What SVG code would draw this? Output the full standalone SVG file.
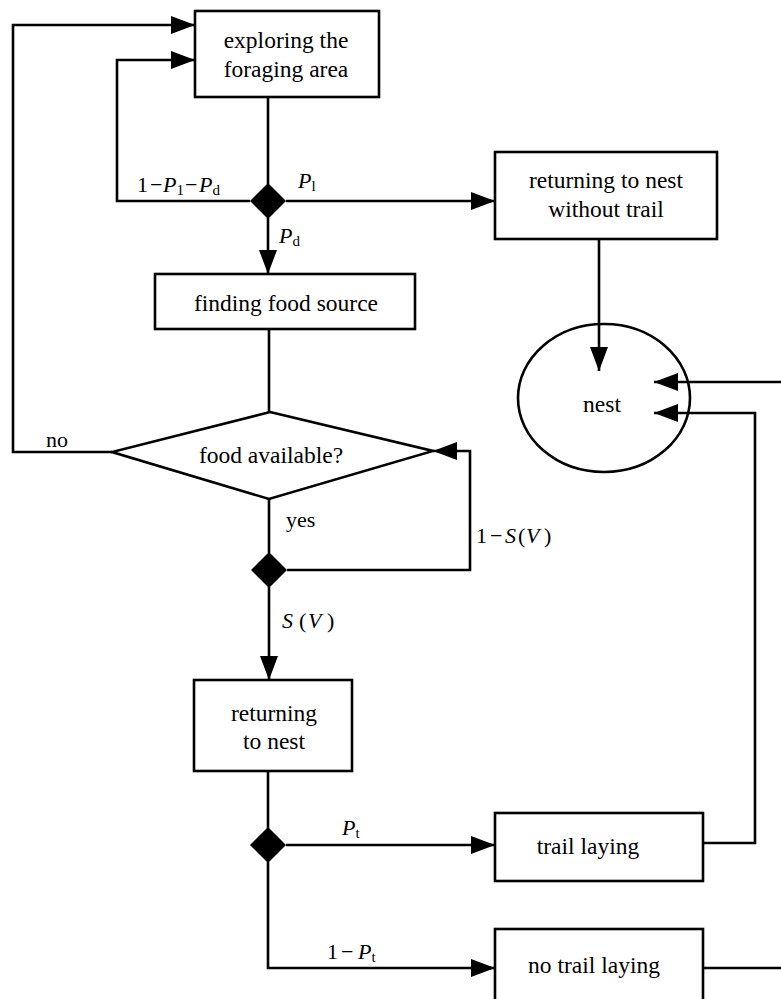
<svg xmlns="http://www.w3.org/2000/svg" width="781" height="999" viewBox="0 0 781 999">
<defs>
<marker id="arr" markerUnits="userSpaceOnUse" markerWidth="24" markerHeight="18" refX="24" refY="9" orient="auto">
<path d="M0,0 L24,9 L0,18 Z" fill="#000"/>
</marker>
<style>
.box{fill:#fff;stroke:#000;stroke-width:2.6}
.dec{fill:#000;stroke:none}
.c{fill:none;stroke:#000;stroke-width:2.6}
.ca{fill:none;stroke:#000;stroke-width:2.6;marker-end:url(#arr)}
.t{font-size:23.5px;fill:#000;text-anchor:middle}
.l{font-size:22px;fill:#000}
.i{font-style:italic}
.s{font-size:15px}
</style>
</defs>
<rect width="781" height="999" fill="#fff"/>
<g font-family="Liberation Serif, Times New Roman, serif">
<g id="exploring">
<rect class="box" x="195" y="11" width="184" height="86"/>
<text class="t" x="286" y="48">exploring the</text>
<text class="t" x="286" y="77">foraging area</text>
</g>
<g id="decision1">
<polygon class="dec" points="268,183 286,201 268,219 250,201"/>
</g>
<g id="returning-without-trail">
<rect class="box" x="495" y="152" width="222" height="87"/>
<text class="t" x="606" y="188">returning to nest</text>
<text class="t" x="606" y="217">without trail</text>
</g>
<g id="finding">
<rect class="box" x="155" y="274" width="260" height="55"/>
<text class="t" x="286" y="311">finding food source</text>
</g>
<g id="nest">
<ellipse class="box" cx="604" cy="398" rx="86" ry="74"/>
<text class="t" x="602" y="412">nest</text>
</g>
<g id="food-available">
<polygon class="box" points="270,412 433,451 269,499 112,452"/>
<text class="t" x="271" y="463">food available?</text>
</g>
<g id="decision2">
<polygon class="dec" points="269,552 287,570 269,588 251,570"/>
</g>
<g id="returning">
<rect class="box" x="194" y="680" width="158" height="91"/>
<text class="t" x="274" y="721">returning</text>
<text class="t" x="274" y="749">to nest</text>
</g>
<g id="decision3">
<polygon class="dec" points="268,827 286,845 268,863 250,845"/>
</g>
<g id="trail-laying">
<rect class="box" x="495" y="813" width="208" height="68"/>
<text class="t" x="588" y="854">trail laying</text>
</g>
<g id="no-trail-laying">
<rect class="box" x="495" y="929" width="208" height="80"/>
<text class="t" x="594" y="973">no trail laying</text>
</g>
<g id="connectors">
<polyline class="ca" points="112,452 13,452 13,25 195,25"/>
<polyline class="ca" points="250,201 117,201 117,60 195,60"/>
<line class="c" x1="268" y1="97" x2="268" y2="184"/>
<line class="ca" x1="286" y1="201" x2="495" y2="201"/>
<line class="ca" x1="268" y1="218" x2="268" y2="274"/>
<line class="c" x1="269" y1="329" x2="269" y2="412"/>
<line class="c" x1="269" y1="499" x2="269" y2="553"/>
<polyline class="ca" points="287,570 470,570 470,451 433,451"/>
<line class="ca" x1="269" y1="587" x2="269" y2="680"/>
<line class="c" x1="268" y1="771" x2="268" y2="828"/>
<line class="ca" x1="286" y1="845" x2="495" y2="845"/>
<polyline class="ca" points="268,862 268,968 495,968"/>
<polyline class="ca" points="703,843 755,843 755,413 654,413"/>
<line class="c" x1="703" y1="968" x2="781" y2="968"/>
<line class="ca" x1="781" y1="382" x2="654" y2="382"/>
<line class="ca" x1="599" y1="239" x2="599" y2="371"/>
</g>
<g id="labels">
<text class="l" x="137" y="192">1<tspan x="150">−</tspan><tspan class="i" x="163">P</tspan><tspan class="s" dy="3">1</tspan><tspan x="185" dy="-3">−</tspan><tspan class="i" x="199">P</tspan><tspan class="s" dy="3">d</tspan></text>
<text class="l" x="298" y="188"><tspan class="i">P</tspan><tspan class="s" dy="3">l</tspan></text>
<text class="l" x="279" y="243"><tspan class="i">P</tspan><tspan class="s" dy="3">d</tspan></text>
<text class="l" x="46" y="447">no</text>
<text class="l" x="286" y="527">yes</text>
<text class="l" x="476" y="543">1<tspan x="490">−</tspan><tspan class="i" x="505">S</tspan><tspan x="518">(</tspan><tspan class="i" x="526">V</tspan><tspan x="544">)</tspan></text>
<text class="l" x="282" y="628"><tspan class="i">S</tspan><tspan x="299">(</tspan><tspan class="i" x="308">V</tspan><tspan x="327">)</tspan></text>
<text class="l" x="342" y="835"><tspan class="i">P</tspan><tspan class="s" dy="3">t</tspan></text>
<text class="l" x="327" y="959">1<tspan x="341">−</tspan><tspan class="i" x="358">P</tspan><tspan class="s" dy="3">t</tspan></text>
</g>
</g>
</svg>
